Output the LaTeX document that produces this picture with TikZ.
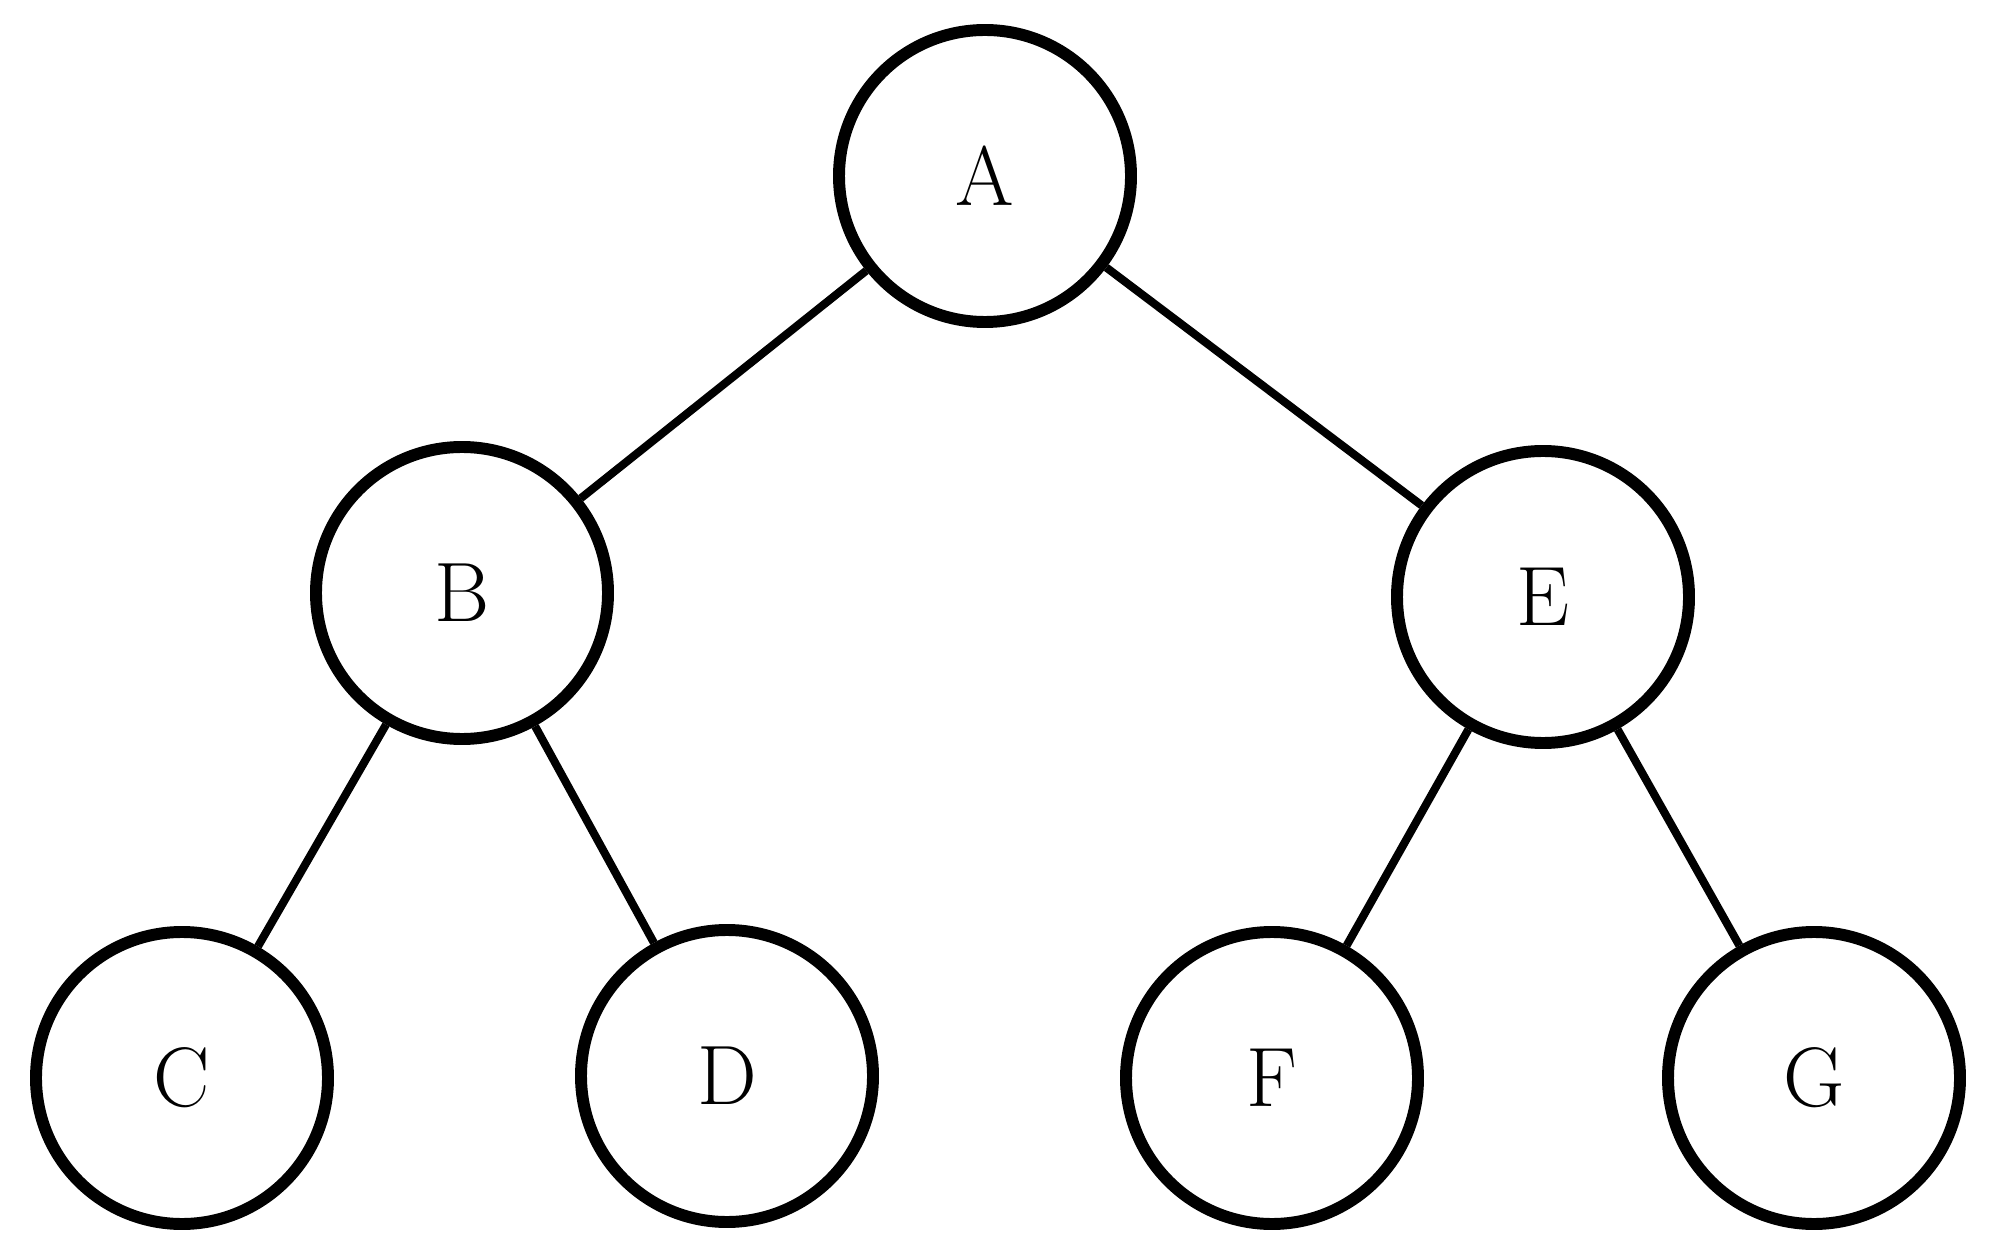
\documentclass[tikz,border=0pt]{standalone}
\usepackage{amsmath}
\usepackage{tikz}
\usetikzlibrary{calc}
\definecolor{strich}{RGB}{0,0,0}
\tikzset{kreis/.style={circle, draw=strich, line width=3.4pt, minimum size=2.92cm, inner sep=0pt, font=\fontsize{24}{28}\selectfont}}
\tikzset{kante/.style={draw=strich, line width=2.3pt}}

\begin{document}
\begin{tikzpicture}[strich]
	\useasboundingbox (0,0) rectangle (20,12.52);

	\node[kreis] (A) at (9.85,10.76) {A};
	\node[kreis] (B) at (4.62,6.59) {B};
	\node[kreis] (E) at (15.43,6.55) {E};
	\node[kreis] (C) at (1.82,1.74) {C};
	\node[kreis] (D) at (7.27,1.76) {D};
	\node[kreis] (F) at (12.72,1.74) {F};
	\node[kreis] (G) at (18.14,1.74) {G};

	\draw[kante] (A) -- (B);
	\draw[kante] (A) -- (E);
	\draw[kante] (B) -- (C);
	\draw[kante] (B) -- (D);
	\draw[kante] (E) -- (F);
	\draw[kante] (E) -- (G);
\end{tikzpicture}
\end{document}
